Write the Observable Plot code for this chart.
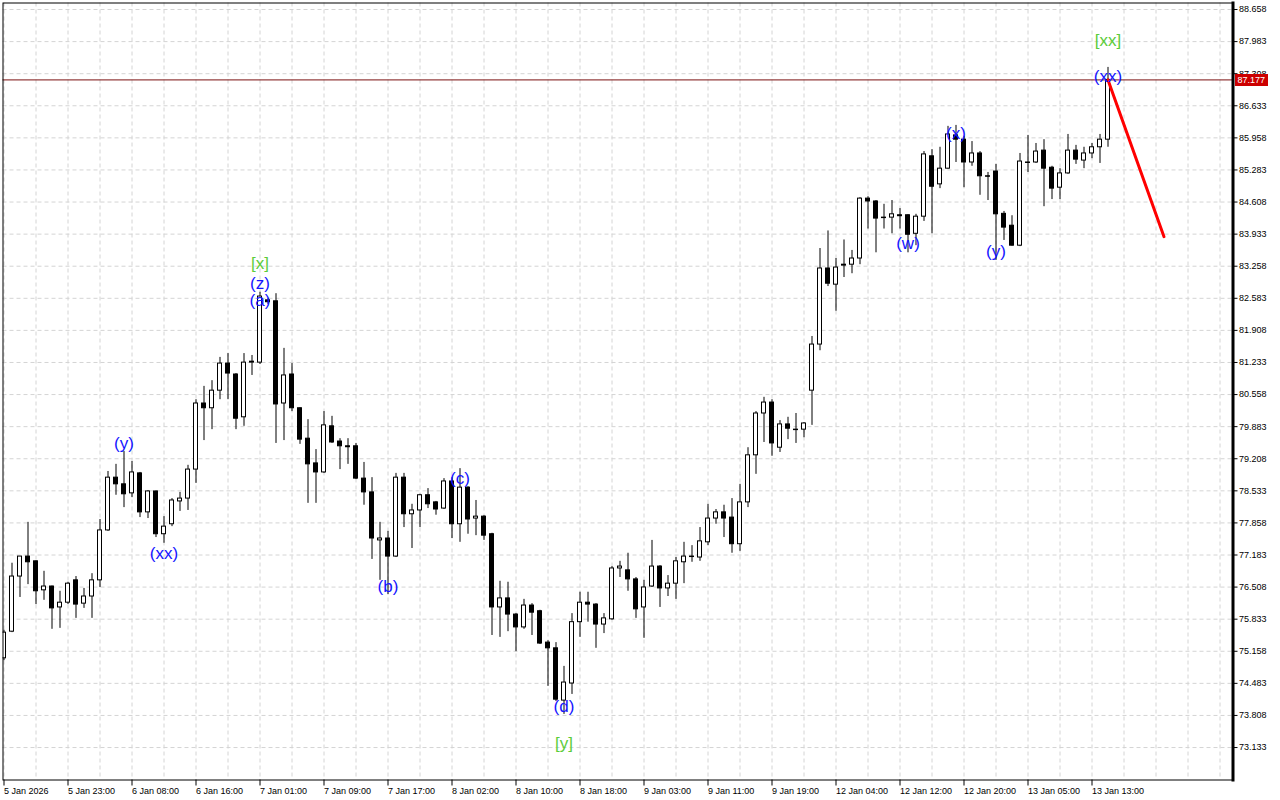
<!DOCTYPE html>
<html>
<head>
<meta charset="utf-8">
<script src="https://cdn.jsdelivr.net/npm/d3@7"></script>
<script src="https://cdn.jsdelivr.net/npm/@observablehq/plot@0.6"></script>
<style>
  html, body { margin: 0; padding: 0; background: #ffffff; }
  #chart svg { display: block; }
</style>
</head>
<body>
<div id="chart"></div>
<script>
// ---- Data (hourly candles, index 0..138) ----
const open = [
  75.01, 75.57, 76.73, 77.15, 77.05, 76.44, 76.52, 76.08, 76.18, 76.65,
  76.16, 76.31, 76.65, 77.70, 78.81, 78.67, 78.48, 78.90, 78.08, 78.52,
  77.62, 77.83, 78.31, 78.37, 78.98, 80.37, 80.27, 80.64, 81.21, 80.98,
  80.08, 81.23, 81.23, 82.54, 82.52, 80.37, 80.98, 80.27, 79.63, 79.11,
  78.92, 79.89, 79.57, 79.47, 79.47, 78.79, 78.50, 77.49, 77.53, 77.15,
  78.81, 78.04, 78.12, 78.44, 78.29, 78.16, 78.73, 77.83, 78.60, 77.95,
  77.99, 77.62, 76.08, 76.27, 75.93, 75.66, 76.12, 76.00, 75.34, 75.22,
  74.12, 74.48, 75.77, 76.18, 76.14, 75.72, 75.83, 76.90, 76.86, 76.67,
  76.08, 76.52, 76.94, 76.48, 76.58, 77.03, 77.15, 77.13, 77.45, 77.95,
  78.08, 77.97, 77.41, 78.29, 79.28, 80.16, 80.39, 79.44, 79.93, 79.82,
  79.82, 80.64, 81.61, 83.21, 82.87, 83.27, 83.29, 83.42, 84.68, 84.62,
  84.28, 84.28, 84.33, 84.33, 83.94, 84.30, 85.57, 84.98, 85.31, 86.01,
  85.92, 85.44, 85.63, 85.15, 85.25, 84.36, 84.11, 83.69, 85.44, 85.44,
  85.69, 85.33, 84.91, 85.21, 85.69, 85.48, 85.63, 85.76, 85.92
];
const high = [
  75.60, 77.01, 77.15, 77.87, 77.06, 76.84, 76.53, 76.42, 76.61, 76.73,
  76.48, 76.79, 77.93, 78.94, 79.09, 79.36, 79.15, 78.92, 78.54, 78.53,
  77.99, 78.37, 78.50, 79.07, 80.45, 80.73, 80.85, 81.34, 81.42, 81.00,
  81.42, 81.38, 82.71, 82.58, 82.68, 81.53, 81.21, 80.28, 80.03, 79.40,
  80.20, 80.10, 79.63, 79.63, 79.53, 79.13, 78.81, 77.87, 77.68, 78.90,
  78.90, 78.25, 78.46, 78.58, 78.31, 78.79, 78.81, 79.00, 78.62, 78.33,
  78.01, 77.64, 76.63, 76.61, 75.95, 76.25, 76.16, 76.02, 75.38, 75.34,
  74.84, 75.95, 76.40, 76.40, 76.16, 75.95, 76.94, 77.05, 77.22, 76.71,
  76.65, 77.49, 76.96, 76.75, 77.13, 77.45, 77.38, 77.76, 78.25, 78.14,
  78.23, 78.37, 78.67, 79.44, 80.20, 80.50, 80.45, 80.01, 80.08, 80.16,
  79.97, 81.78, 83.63, 84.00, 83.42, 83.81, 83.59, 84.70, 84.72, 84.64,
  84.56, 84.64, 84.47, 84.34, 84.35, 85.67, 85.71, 85.76, 86.20, 86.22,
  85.99, 85.88, 85.67, 85.23, 85.40, 84.41, 84.32, 85.63, 86.01, 85.84,
  85.92, 85.36, 85.31, 86.03, 85.80, 85.76, 85.84, 86.03, 87.44
];
const low = [
  74.96, 75.55, 76.29, 76.56, 76.14, 76.23, 75.62, 75.64, 76.14, 75.85,
  76.06, 75.85, 76.50, 77.68, 78.44, 78.18, 78.39, 77.97, 77.95, 77.55,
  77.43, 77.78, 78.10, 78.12, 78.69, 79.59, 79.82, 80.45, 80.45, 79.82,
  79.89, 80.96, 81.19, 82.45, 79.53, 79.59, 80.20, 79.51, 78.27, 78.27,
  78.90, 79.53, 78.98, 79.09, 78.77, 78.23, 77.09, 76.65, 76.35, 77.13,
  77.76, 77.32, 77.76, 78.16, 78.02, 78.14, 77.53, 77.45, 77.62, 77.59,
  77.49, 75.49, 75.45, 75.57, 75.15, 75.62, 75.49, 75.30, 74.42, 74.10,
  73.83, 74.25, 75.45, 75.77, 75.22, 75.53, 75.81, 76.71, 76.42, 75.85,
  75.43, 76.50, 76.08, 76.31, 76.25, 76.58, 77.03, 77.05, 77.38, 77.83,
  77.55, 77.22, 77.26, 78.18, 78.88, 79.55, 79.26, 79.34, 79.61, 79.53,
  79.65, 79.91, 81.48, 82.83, 82.31, 83.02, 83.10, 83.29, 84.04, 83.54,
  84.04, 83.94, 84.04, 83.54, 83.69, 84.20, 83.94, 84.89, 85.30, 85.44,
  84.91, 85.36, 84.75, 84.64, 83.38, 83.80, 83.68, 83.67, 85.23, 85.42,
  84.51, 84.66, 84.66, 85.19, 85.40, 85.31, 85.52, 85.42, 85.76
];
const close = [
  75.55, 76.73, 77.15, 77.03, 76.42, 76.52, 76.06, 76.18, 76.58, 76.14,
  76.31, 76.65, 77.70, 78.81, 78.67, 78.46, 78.92, 78.08, 78.52, 77.62,
  77.78, 78.33, 78.37, 78.98, 80.37, 80.27, 80.64, 81.21, 81.00, 80.05,
  81.23, 81.25, 82.62, 82.50, 80.35, 80.96, 80.27, 79.61, 79.09, 78.92,
  79.91, 79.55, 79.47, 79.45, 78.79, 78.50, 77.53, 77.53, 77.15, 78.81,
  78.04, 78.12, 78.44, 78.25, 78.14, 78.73, 77.83, 78.60, 77.93, 77.99,
  77.59, 76.08, 76.27, 75.93, 75.66, 76.12, 75.97, 75.32, 75.22, 74.14,
  74.50, 75.77, 76.18, 76.14, 75.72, 75.85, 76.90, 76.94, 76.67, 76.04,
  76.50, 76.94, 76.48, 76.58, 77.05, 77.15, 77.14, 77.47, 77.95, 78.08,
  77.95, 77.41, 78.29, 79.28, 80.16, 80.39, 79.53, 79.93, 79.84, 79.81,
  79.95, 81.61, 83.21, 82.89, 83.23, 83.29, 83.42, 84.68, 84.62, 84.26,
  84.27, 84.35, 84.31, 83.92, 84.30, 85.61, 84.93, 85.31, 86.03, 85.92,
  85.44, 85.63, 85.15, 85.14, 84.35, 84.07, 83.69, 85.46, 85.43, 85.67,
  85.31, 84.89, 85.21, 85.69, 85.50, 85.63, 85.76, 85.92, 87.177
];

const currentPrice = 87.177;

// projected move (red line)
const projIndex = [138, 145];
const projPrice = [87.177, 83.88];

// wave labels
const waveText  = ["(y)", "(xx)", "[x]", "(z)", "(a)", "(b)", "(c)", "(d)", "[y]", "(w)", "(x)", "(y)", "(xx)", "[xx]"];
const waveIndex = [15, 20, 32, 32, 32, 48, 57, 70, 70, 113, 119, 124, 138, 138];
const wavePrice = [79.53, 77.22, 83.32, 82.89, 82.54, 76.52, 78.79, 74.00, 73.22, 83.73, 86.05, 83.57, 87.25, 88.01];

// axes
const yTicks = [73.133, 73.808, 74.483, 75.158, 75.833, 76.508, 77.183, 77.858, 78.533, 79.208,
  79.883, 80.558, 81.233, 81.908, 82.583, 83.258, 83.933, 84.608, 85.283, 85.958, 86.633,
  87.308, 87.983, 88.658];
const xTickIndex = [0, 8, 16, 24, 32, 40, 48, 56, 64, 72, 80, 88, 96, 104, 112, 120, 128, 136];
const xTickLabels = ["5 Jan 2026", "5 Jan 23:00", "6 Jan 08:00", "6 Jan 16:00", "7 Jan 01:00",
  "7 Jan 09:00", "7 Jan 17:00", "8 Jan 02:00", "8 Jan 10:00", "8 Jan 18:00", "9 Jan 03:00",
  "9 Jan 11:00", "9 Jan 19:00", "12 Jan 04:00", "12 Jan 12:00", "12 Jan 20:00",
  "13 Jan 05:00", "13 Jan 13:00"];

// ---- Build tables ----
const candles = open.map((o, i) => ({i, open: o, high: high[i], low: low[i], close: close[i]}));
const proj = projIndex.map((x, k) => ({i: x, p: projPrice[k]}));
const waves = waveText.map((t, k) => ({t, i: waveIndex[k], p: wavePrice[k]}));
const xLabelMap = new Map(xTickIndex.map((d, k) => [d, xTickLabels[k]]));

const xDomain = [-0.125, 153.625];
const yDomain = [72.450, 88.795];
const gridX = d3.range(0, 154, 4);

const tagX1 = xDomain[1] + 2.5 / 8;
const tagX2 = xDomain[1] + 35.5 / 8;

const chart = Plot.plot({
  width: 1280,
  height: 800,
  marginLeft: 2.5,
  marginTop: 2.5,
  marginRight: 47.5,
  marginBottom: 20.5,
  style: {fontFamily: "'Liberation Sans', Arial, sans-serif", fontSize: "9px", background: "#ffffff", color: "#000000"},
  x: {type: "linear", domain: xDomain, axis: null, label: null},
  y: {type: "linear", domain: yDomain, axis: null, label: null},
  marks: [
    // grid
    Plot.ruleY(yTicks, {stroke: "#d4d4d4", strokeDasharray: "4,3", strokeWidth: 1}),
    Plot.ruleX(gridX, {stroke: "#d4d4d4", strokeDasharray: "4,3", strokeWidth: 1}),
    // current price line
    Plot.ruleY([currentPrice], {stroke: "#7a1010", strokeWidth: 1}),
    // candles
    Plot.ruleX(candles, {x: "i", y1: "low", y2: "high", stroke: "#000000", strokeWidth: 1, clip: true}),
    Plot.rect(candles, {
      x1: d => d.i - 0.25, x2: d => d.i + 0.25,
      y1: "open", y2: "close",
      fill: d => d.close > d.open ? "#ffffff" : "#000000",
      stroke: "#000000", strokeWidth: 1, clip: true
    }),
    // projection
    Plot.line(proj, {x: "i", y: "p", stroke: "#ff0000", strokeWidth: 3}),
    // wave labels
    Plot.text(waves, {
      x: "i", y: "p", text: "t",
      fill: d => d.t.startsWith("[") ? "#5ccc3a" : "#1414ff",
      fontSize: 17, fontFamily: "'Liberation Sans', Arial, sans-serif"
    }),
    // frame
    Plot.frame({stroke: "#000000", strokeWidth: 1}),
    Plot.frame({anchor: "right", stroke: "#000000", strokeWidth: 3}),
    // axes
    Plot.axisY({anchor: "right", label: null, ticks: yTicks, tickFormat: d => d.toFixed(3), tickSize: 4, tickPadding: 2, fontSize: 9}),
    Plot.axisX({anchor: "bottom", label: null, ticks: xTickIndex, tickFormat: d => xLabelMap.get(d), tickSize: 6, tickPadding: 2, textAnchor: "start", fontSize: 9}),
    // price tag
    Plot.ruleY([currentPrice], {x1: tagX1, x2: tagX2, stroke: "#cc0000", strokeWidth: 12}),
    Plot.text([currentPrice], {x: tagX1, y: d => d, text: d => d.toFixed(3), dx: 2, textAnchor: "start", fill: "#ffffff", fontSize: 9})
  ]
});

document.getElementById("chart").appendChild(chart);
</script>
</body>
</html>
